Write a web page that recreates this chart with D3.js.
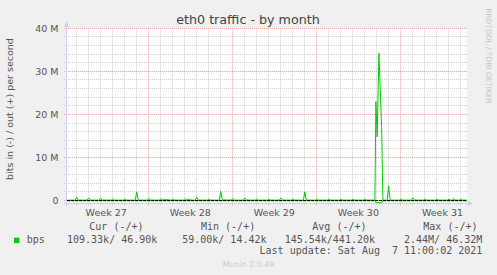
<!DOCTYPE html>
<html><head><meta charset="utf-8">
<script src="https://cdn.jsdelivr.net/npm/d3@7"></script>
<style>
html,body{margin:0;padding:0;background:#f0f0f0;}
svg{display:block;}
text{white-space:pre;}
</style></head><body>
<svg id="chart" width="497" height="275"></svg>
<script>
// ---- data ----
const title = "eth0 traffic - by month";
const yLabel = "bits in (-) / out (+) per second";
const yTickValues = [0, 10, 20, 30, 40];            // Mbit/s
const yTickLabels = ["0", "10 M", "20 M", "30 M", "40 M"];
const weekStarts = ["2021-07-05", "2021-07-12", "2021-07-19", "2021-07-26", "2021-08-02"];
const weekLabels = ["Week 27", "Week 28", "Week 29", "Week 30", "Week 31"];
// hours since 2021-07-05 00:00, values in Mbit/s
const outHours = [6, 22, 25, 28, 46, 49, 52, 70, 73, 76, 94, 97, 100, 118, 121, 124,
  142, 145, 148, 166, 169, 172, 190, 193, 196, 204, 214, 217, 220, 238, 241, 244, 250, 254,
  262, 265, 268, 286, 289, 292, 310, 313, 316, 334, 337, 340, 358, 361, 364, 382, 385, 388,
  406, 409, 412, 430, 433, 436, 454, 457, 460, 478, 481, 484, 502, 505, 508, 526, 529, 532,
  550, 553, 556, 574, 577, 580, 598, 601, 604, 621, 623, 625.5, 629, 634.5, 637,
  645.5, 648.5, 651.5, 670, 673, 676, 694, 697, 700, 718, 721, 724, 742, 745, 748,
  766, 769, 772, 776, 778, 781, 790, 793, 796, 805];
const outMbps = [0.08, 0.08, 0.75, 0.1, 0.08, 0.6, 0.1, 0.08, 0.6, 0.1, 0.08, 0.4, 0.1, 0.08, 0.35, 0.1,
  0.08, 2.0, 0.1, 0.08, 0.5, 0.1, 0.08, 0.35, 0.15, 0.2, 0.1, 0.35, 0.1, 0.08, 0.4, 0.15, 0.3, 0.1,
  0.08, 0.77, 0.1, 0.08, 0.3, 0.1, 0.08, 2.1, 0.15, 0.08, 0.5, 0.1, 0.08, 0.6, 0.1, 0.08, 0.4, 0.1,
  0.08, 0.3, 0.1, 0.08, 0.6, 0.1, 0.08, 0.35, 0.1, 0.08, 2.0, 0.1, 0.08, 0.4, 0.1, 0.08, 0.35, 0.1,
  0.08, 0.3, 0.1, 0.08, 0.3, 0.1, 0.08, 0.35, 0.1, 0.1, 23.0, 14.8, 34.2, 17.0, 0.1,
  0.08, 3.4, 0.1, 0.08, 0.35, 0.1, 0.08, 0.6, 0.1, 0.08, 0.35, 0.1, 0.08, 0.35, 0.1,
  0.08, 0.3, 0.1, 0.08, 0.45, 0.1, 0.08, 0.45, 0.1, 0.08];
const inHours = [6, 621, 623, 635, 637, 805];
const inMbps = [-0.08, -0.08, -0.5, -0.5, -0.08, -0.08];
const legendName = "bps";
const legendHeaders = ["Cur (-/+)", "Min (-/+)", "Avg (-/+)", "Max (-/+)"];
const legendValues = ["109.33k/ 46.90k", "59.00k/ 14.42k", "145.54k/441.20k", "2.44M/ 46.32M"];
const lastUpdate = "Last update: Sat Aug  7 11:00:02 2021";
const footer = "Munin 2.0.49";
const watermark = "RRDTOOL / TOBI OETIKER";

// ---- layout ----
const W = 497, H = 275;
const L = 67, R = 467, T = 28.3, B = 203.5;
const green = "#00cc00";
const axisCol = "#c9d1f3";
const svg = d3.select("#chart");
svg.append("rect").attr("width", W).attr("height", H).attr("fill", "#f0f0f0");
svg.append("rect").attr("x", L).attr("y", 28).attr("width", R - L).attr("height", B - 28).attr("fill", "#fff");

const t0 = Date.UTC(2021, 6, 5);
const hr = h => new Date(t0 + h * 3600e3);
const x = d3.scaleUtc().domain([new Date(Date.UTC(2021, 6, 5, 5, 42)), new Date(Date.UTC(2021, 7, 7, 13, 4))]).range([L, R]);
const y = d3.scaleLinear().domain([-0.7, 40]).range([B, T]);
const cy = v => Math.floor(y(v)) + 0.5;
const cx = d => Math.floor(x(d)) + 0.5;

// grid
const g = svg.append("g");
const minorY = d3.range(0, 41, 2).filter(v => v % 10 !== 0);
g.selectAll(".hmin").data(minorY).join("line")
  .attr("x1", L - 3).attr("x2", R).attr("y1", cy).attr("y2", cy)
  .attr("stroke", "#cfcfcf").attr("stroke-dasharray", "1,1");
const days = d3.utcDay.range(x.domain()[0], x.domain()[1]).filter(d => d.getUTCDay() !== 1);
g.selectAll(".vmin").data(days).join("line")
  .attr("x1", cx).attr("x2", cx).attr("y1", T).attr("y2", B + 2.5)
  .attr("stroke", "#cfcfcf").attr("stroke-dasharray", "1,1");
g.selectAll(".hmaj").data(yTickValues).join("line")
  .attr("x1", L - 3).attr("x2", R).attr("y1", cy).attr("y2", cy)
  .attr("stroke", "#eba3a3").attr("stroke-dasharray", "1,1");
const mondays = d3.utcMonday.range(x.domain()[0], x.domain()[1]);
g.selectAll(".vmaj").data(mondays).join("line")
  .attr("x1", cx).attr("x2", cx).attr("y1", T).attr("y2", B + 2.5)
  .attr("stroke", "#eba3a3").attr("stroke-dasharray", "1,1");

// axes
svg.append("line").attr("x1", L - 3).attr("x2", R + 1).attr("y1", B).attr("y2", B).attr("stroke", axisCol);
svg.append("line").attr("x1", L - 0.5).attr("x2", L - 0.5).attr("y1", B + 3).attr("y2", 25).attr("stroke", axisCol);
svg.append("path").attr("d", `M${L - 3},27 L${L + 2},27 L${L - 0.5},21 Z`).attr("fill", axisCol);
svg.append("path").attr("d", `M${R + 1},${B - 2.5} L${R + 1},${B + 2.5} L${R + 6},${B} Z`).attr("fill", axisCol);

// data
svg.append("clipPath").attr("id", "clip").append("rect").attr("x", L).attr("y", T - 1).attr("width", R - L).attr("height", B - T + 1);
const plot = svg.append("g").attr("clip-path", "url(#clip)");
const line = d3.line().x(d => x(hr(d[0]))).y(d => y(d[1]));
plot.append("path").datum(d3.zip(inHours, inMbps)).attr("d", line)
  .attr("fill", "none").attr("stroke", green).attr("stroke-width", 1);
plot.append("path").datum(d3.zip(outHours, outMbps)).attr("d", line)
  .attr("fill", "none").attr("stroke", green).attr("stroke-width", 1);
plot.append("line").attr("x1", L).attr("x2", R).attr("y1", cy(0)).attr("y2", cy(0))
  .attr("stroke", "#000").attr("stroke-dasharray", "3,1");

// tick labels
const tickCol = "#555";
svg.selectAll(".ylab").data(yTickValues).join("text")
  .attr("x", 58.5).attr("y", v => y(v) + 3.4).attr("text-anchor", "end")
  .attr("font-family", "DejaVu Sans").attr("font-size", 9.5).attr("fill", tickCol)
  .text((v, i) => yTickLabels[i]);
svg.selectAll(".xlab").data(weekStarts).join("text")
  .attr("x", d => x(new Date(Date.parse(d + "T00:00:00Z") + 3.5 * 864e5)))
  .attr("y", 216).attr("text-anchor", "middle")
  .attr("font-family", "DejaVu Sans").attr("font-size", 9.5).attr("fill", tickCol)
  .text((d, i) => weekLabels[i]);

// title & labels
svg.append("text").attr("x", 248).attr("y", 24).attr("text-anchor", "middle")
  .attr("font-family", "DejaVu Sans").attr("font-size", 12.7).attr("fill", "#444").text(title);
svg.append("text").attr("transform", "translate(13.3,109) rotate(-90)").attr("text-anchor", "middle")
  .attr("font-family", "DejaVu Sans").attr("font-size", 9.5).attr("fill", tickCol).text(yLabel);
svg.append("text").attr("transform", "translate(486,56) rotate(90)").attr("text-anchor", "middle")
  .attr("font-family", "DejaVu Sans").attr("font-size", 7.4).attr("fill", "#c4c4c4").text(watermark);

// legend
const mono = "DejaVu Sans Mono";
const headX = [89.3, 201, 312.3, 423.3];
const valX = [157.3, 266.5, 375, 482.3];
svg.selectAll(".lh").data(legendHeaders).join("text")
  .attr("x", (d, i) => headX[i]).attr("y", 230).attr("font-family", mono).attr("font-size", 10)
  .attr("fill", tickCol).text(d => d);
svg.selectAll(".lv").data(legendValues).join("text")
  .attr("x", (d, i) => valX[i]).attr("y", 243.3).attr("text-anchor", "end").attr("font-family", mono).attr("font-size", 10)
  .attr("fill", tickCol).text(d => d);
svg.append("rect").attr("x", 14).attr("y", 237.7).attr("width", 5.4).attr("height", 5.4).attr("fill", green);
svg.append("text").attr("x", 26.7).attr("y", 243.3).attr("font-family", mono).attr("font-size", 10)
  .attr("fill", tickCol).text(legendName);
svg.append("text").attr("x", 482.3).attr("y", 254).attr("text-anchor", "end").attr("font-family", mono).attr("font-size", 10)
  .attr("fill", tickCol).text(lastUpdate);
svg.append("text").attr("x", 248.5).attr("y", 267).attr("text-anchor", "middle").attr("font-family", "DejaVu Sans").attr("font-size", 7.9)
  .attr("fill", "#cccccc").text(footer);
</script>
</body></html>
